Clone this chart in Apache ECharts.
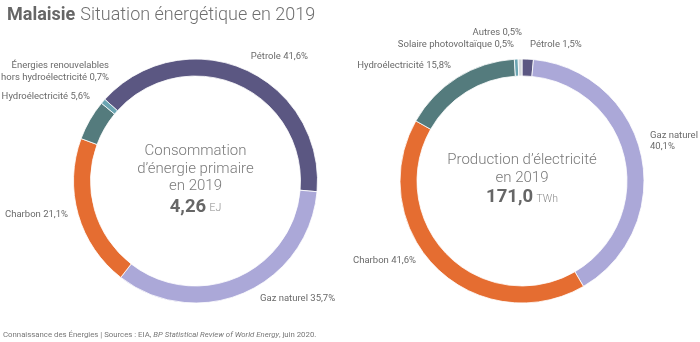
<!DOCTYPE html>
<html>
<head>
<meta charset="utf-8">
<script src="https://cdn.jsdelivr.net/npm/echarts@6/dist/echarts.min.js"></script>
<style>
  html, body { margin: 0; padding: 0; background: #fff; }
  #chart { width: 700px; height: 342px; }
</style>
</head>
<body>
<div id="chart"></div>
<script>
// Primary energy consumption (shares, %)
const primaryNames = ['Pétrole', 'Gaz naturel', 'Charbon', 'Hydroélectricité', 'Énergies renouvelables\nhors hydroélectricité'];
const primaryShares = [41.6, 35.7, 21.1, 5.6, 0.7];
const primaryColors = ['#5b5782', '#aba8d8', '#e56d31', '#547b7d', '#6ba5b2'];

// Electricity generation (shares, %)
const powerNames = ['Pétrole', 'Gaz naturel', 'Charbon', 'Hydroélectricité', 'Solaire photovoltaïque', 'Autres'];
const powerShares = [1.5, 40.1, 41.6, 15.8, 0.5, 0.5];
const powerColors = ['#5b5782', '#aba8d8', '#e56d31', '#547b7d', '#6ba5b2', '#d5d9dc'];

// Totals shown in the middle of each ring
const primaryTotal = '4,26';
const primaryUnit = 'EJ';
const powerTotal = '171,0';
const powerUnit = 'TWh';

const FONT = 'Roboto, "Noto Sans", sans-serif';
const fmt = v => v.toFixed(1).replace('.', ',') + '%';

// Label anchor points around each ring: [x, y, align]
const primaryLabelPos = [
  [308, 57, 'right'],
  [260, 299, 'left'],
  [68, 215, 'right'],
  [90, 97, 'right'],
  [109, 71.5, 'right']
];
const powerLabelPos = [
  [530, 45, 'left'],
  [650, 141, 'left'],
  [416, 261, 'right'],
  [451, 66, 'right'],
  [514, 45, 'right'],
  [522, 33, 'right']
];

function ringSeries(names, values, colors, center, startAngle, labelPos, breakNames) {
  return {
    type: 'pie',
    center: center,
    radius: [105, 122],
    startAngle: startAngle,
    clockwise: true,
    avoidLabelOverlap: false,
    silent: true,
    animation: false,
    itemStyle: { borderColor: '#ffffff', borderWidth: 0.8 },
    label: {
      show: true,
      position: 'outside',
      fontFamily: FONT,
      fontSize: 9.5,
      color: '#6a6a6a',
      lineHeight: 11.6,
      formatter: p => p.name + (breakNames.indexOf(p.name) >= 0 ? '\n' : ' ') + fmt(p.value)
    },
    labelLine: { show: false },
    labelLayout: p => {
      const pos = labelPos[p.dataIndex];
      return { x: pos[0], y: pos[1], align: pos[2], verticalAlign: 'middle', hideOverlap: false, moveOverlap: false };
    },
    emphasis: { disabled: true },
    data: names.map((n, i) => ({ name: n, value: values[i], itemStyle: { color: colors[i] } }))
  };
}

const chart = echarts.init(document.getElementById('chart'), null, { renderer: 'canvas' });

const centerLine = (x, y, text, size) => ({
  type: 'text', x: x, y: y, silent: true,
  style: { text: text, fontFamily: FONT, fontSize: size, fontWeight: 300, fill: '#7a7a7a', align: 'center', verticalAlign: 'middle' }
});
const totalLine = (x, y, num, unit) => ({
  type: 'text', x: x, y: y, silent: true,
  style: {
    text: '{n|' + num + '} {u|' + unit + '}',
    align: 'center', verticalAlign: 'middle',
    rich: {
      n: { fontFamily: FONT, fontSize: 18.5, fontWeight: 'bold', fill: '#666666' },
      u: { fontFamily: FONT, fontSize: 10.5, fontWeight: 300, fill: '#8a8a8a', padding: [3, 0, 0, 0] }
    }
  }
});

chart.setOption({
  backgroundColor: '#ffffff',
  animation: false,
  title: {
    left: 2, top: 1,
    text: '{b|Malaisie} {l|Situation énergétique en 2019}',
    textStyle: {
      rich: {
        b: { fontFamily: FONT, fontSize: 18, fontWeight: 'bold', color: '#666666' },
        l: { fontFamily: FONT, fontSize: 18, fontWeight: 300, color: '#6f6f6f' }
      }
    }
  },
  series: [
    ringSeries(primaryNames, primaryShares, primaryColors, [195.5, 181], 138, primaryLabelPos, []),
    ringSeries(powerNames, powerShares, powerColors, [522, 181], 90, powerLabelPos, ['Gaz naturel'])
  ],
  graphic: [
    centerLine(195.5, 151.7, 'Consommation', 15),
    centerLine(195.5, 169.3, 'd’énergie primaire', 15),
    centerLine(195.5, 186.7, 'en 2019', 15),
    totalLine(195.5, 207, primaryTotal, primaryUnit),
    centerLine(522, 160, 'Production d’électricité', 15),
    centerLine(522, 178, 'en 2019', 15),
    totalLine(522, 197.5, powerTotal, powerUnit),
    {
      type: 'text', x: 3, y: 335, silent: true,
      style: {
        text: '{r|Connaissance des Énergies | Sources : EIA, }{i|BP Statistical Review of World Energy}{r|, juin 2020.}',
        verticalAlign: 'middle',
        rich: {
          r: { fontFamily: FONT, fontSize: 7.8, fill: '#777777' },
          i: { fontFamily: FONT, fontSize: 7.8, fontStyle: 'italic', fill: '#777777' }
        }
      }
    }
  ]
});
</script>
</body>
</html>
